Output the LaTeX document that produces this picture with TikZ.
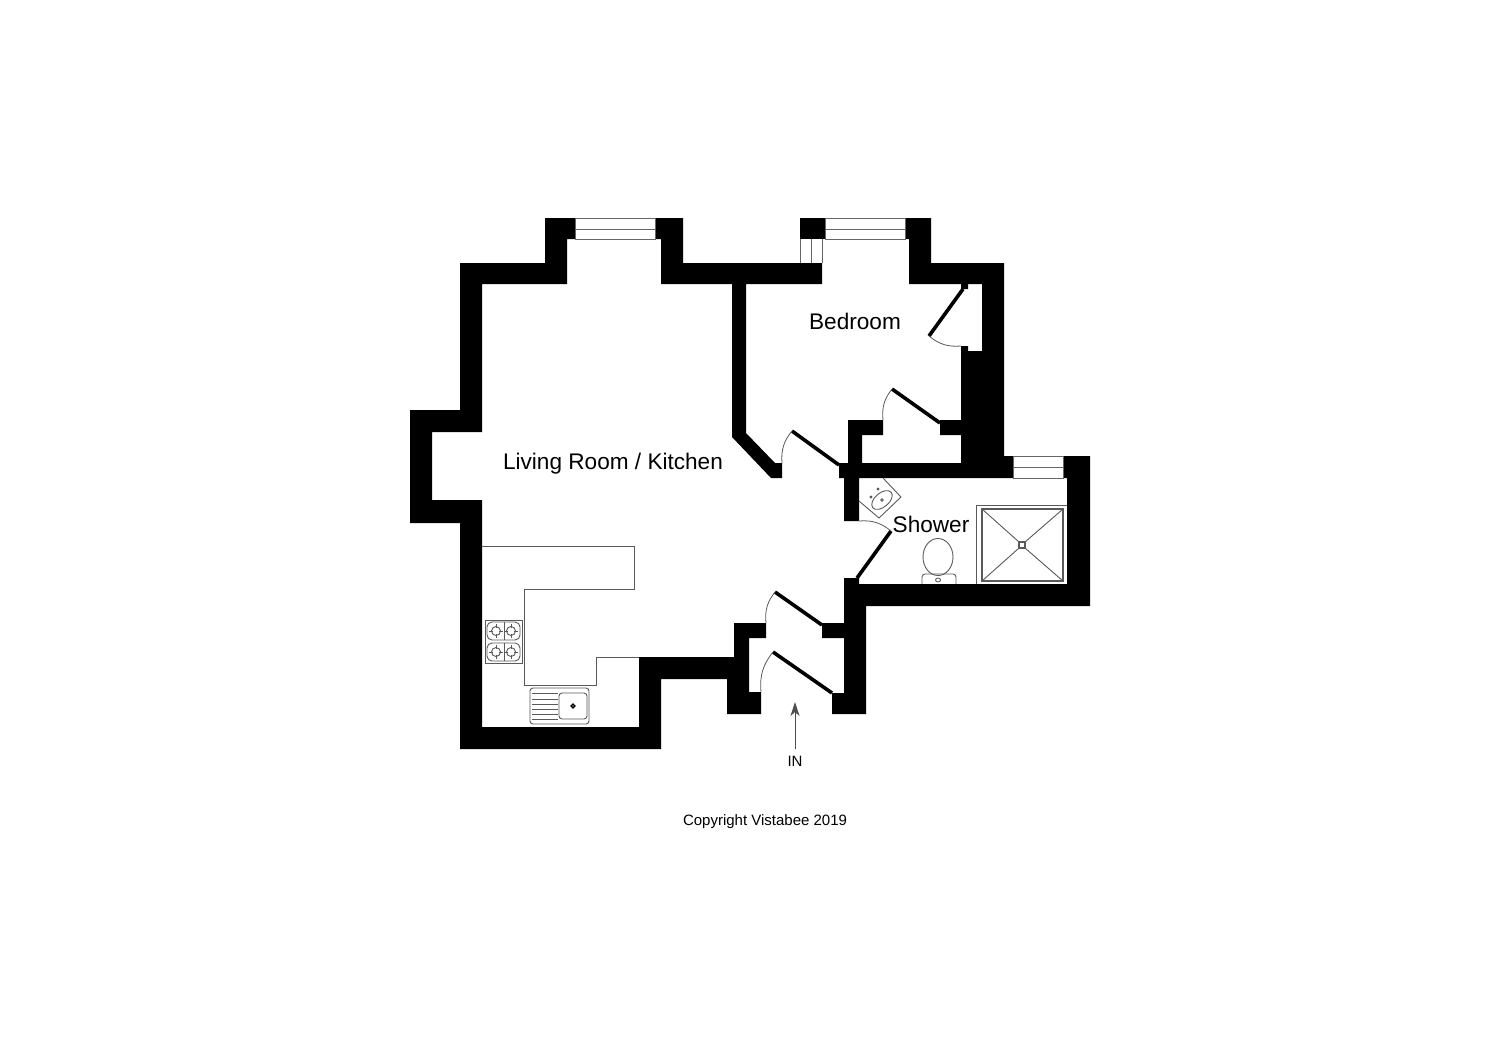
\documentclass[tikz,border=0pt]{standalone}
\usepackage{fontspec}
\setmainfont{Liberation Sans}
\usetikzlibrary{arrows.meta}
\begin{document}
\begin{tikzpicture}[x=0.5pt,y=-0.5pt,
	wall/.style={fill=black,draw=none},
	thin line/.style={draw=black!60,line width=0.5pt},
	fixture/.style={draw=black!65,line width=0.45pt},
	door/.style={draw=black,line width=1.8pt},
	swing/.style={draw=black!65,line width=0.4pt},
	room/.style={font=\fontsize{11.3}{13}\selectfont,inner sep=0pt},
	small/.style={font=\fontsize{7.5}{9}\selectfont,inner sep=0pt}]
	\useasboundingbox (0,0) rectangle (1500,1057);
	\fill[wall] (545,218)--(575,218)--(575,239)--(567,239)--(567,284)--(482,284)--(482,432)--(432,432)--(432,500)--(482,500)--(482,727)--(639,727)--(639,657)--(734,657)--(734,623)--(766,623)--(766,638)--(749,638)--(749,692)--(761,692)--(761,714)--(727,714)--(727,679)--(661,679)--(661,749)--(460,749)--(460,523)--(410,523)--(410,410)--(460,410)--(460,263)--(545,263)--cycle;
	\fill[wall] (655,218)--(683,218)--(683,263)--(822,263)--(822,284)--(746,284)--(746,433)--(775,463)--(782,463)--(782,478)--(771,478)--(732,437)--(732,284)--(661,284)--(661,239)--(655,239)--cycle;
	\fill[wall] (800,218) rectangle (825,239);
	\fill[wall] (905,218)--(931,218)--(931,263)--(1004,263)--(1004,456)--(1013,456)--(1013,478)--(859,478)--(859,521)--(844,521)--(844,478)--(839,478)--(839,463)--(848,463)--(848,420)--(883,420)--(883,435)--(862,435)--(862,463)--(961,463)--(961,435)--(940,435)--(940,420)--(961,420)--(961,346)--(968,346)--(968,351)--(982,351)--(982,284)--(968,284)--(968,289)--(961,289)--(961,284)--(909,284)--(909,239)--(905,239)--cycle;
	\fill[wall] (1063,456)--(1090,456)--(1090,606)--(866,606)--(866,714)--(832,714)--(832,693)--(844,693)--(844,638)--(822,638)--(822,623)--(844,623)--(844,578)--(859,578)--(859,584)--(1067,584)--(1067,478)--(1063,478)--cycle;
	\draw[thin line] (575,218) rectangle (655,239) (575,229)--(655,229);
	\draw[thin line] (825,218) rectangle (905,239) (825,229)--(905,229);
	\draw[thin line] (1013,456) rectangle (1063,478) (1013,467)--(1063,467);
	\draw[thin line] (800,239)--(800,263) (811,239)--(811,263) (822,239)--(822,263);
	\draw[door] (792,431)--(839,465);
	\draw[swing] (792,431) to[bend right=22] (782,463);
	\draw[door] (892,389)--(940,423);
	\draw[swing] (892,389) to[bend right=22] (883,420);
	\draw[door] (963,289)--(929,336);
	\draw[swing] (929,336) to[bend right=22] (961,346);
	\draw[door] (891,531)--(857,578);
	\draw[swing] (891,531) to[bend right=22] (859,521);
	\draw[door] (775,592)--(822,625);
	\draw[swing] (775,592) to[bend right=22] (766,623);
	\draw[door] (773,652)--(832,693);
	\draw[swing] (773,652) to[bend right=22] (761,692);
	\draw[fixture] (482,546)--(634,546)--(634,589)--(524,589)--(524,685)--(596,685)--(596,657)--(639,657);
	\draw[fixture] (485,620) rectangle (522,663);
	\draw[fixture,rounded corners=2.5pt] (487,622) rectangle (520,640);
	\draw[fixture,rounded corners=2.5pt] (487,643) rectangle (520,661);
	\draw[fixture] (504,622)--(504,640) (504,643)--(504,661);
	\foreach \hx in {496,511} {
		\foreach \hy in {631,652} {
			\draw[fixture] (\hx,\hy) circle (4.5);
			\draw[fixture] (\hx-7,\hy)--(\hx-3,\hy) (\hx+3,\hy)--(\hx+7,\hy) (\hx,\hy-7)--(\hx,\hy-3) (\hx,\hy+3)--(\hx,\hy+7);
		}
	}
	\draw[fixture,rounded corners=1.5pt] (530,688) rectangle (589,724);
	\draw[fixture,rounded corners=1.5pt] (559,693) rectangle (587,719);
	\foreach \dy in {693,699,704,709,714,719} {
		\draw[fixture] (532,\dy)--(558,\dy);
	}
	\draw[line width=0.7pt] (573,706) circle (1.8);
	\draw[fixture] (883,478)--(901,497)--(879,518)--(859,501);
	\draw[fixture,rotate around={40:(882,500)}] (882,500) ellipse (12 and 7);
	\draw[fixture] (882,500) circle (1.2) (878,489) circle (1) (871,497) circle (1);
	\draw[fixture] (938,557) ellipse (15 and 18.5);
	\draw[fixture,rounded corners=1.5pt] (922,584)--(922,574)--(956,574)--(956,584);
	\draw[fixture] (938,580) ellipse (2.5 and 2);
	\draw[fixture] (976,584)--(976,505)--(1067,505);
	\draw[fixture,line width=0.6pt] (982,509) rectangle (1063,581);
	\draw[fixture] (982,509)--(1019,542) (1063,509)--(1025,542) (982,581)--(1019,548) (1063,581)--(1025,548);
	\draw[fixture,line width=0.6pt] (1019,542) rectangle (1025,548);
	\node[room] (living) at (613,464) {Living Room / Kitchen};
	\node[room] (bedroom) at (855,321) {Bedroom};
	\node[room] (shower) at (931,524) {Shower};
	\node[small] (in) at (795,761) {IN};
	\node[small] (copyright) at (765,822) {Copyright Vistabee 2019};
	\coordinate (entry) at (795,702);
	\draw[-{Stealth[length=7pt,width=4.5pt,inset=2pt]},draw=black!70,line width=0.4pt] (in.north)+(0,-6) -- (entry);
\end{tikzpicture}
\end{document}
